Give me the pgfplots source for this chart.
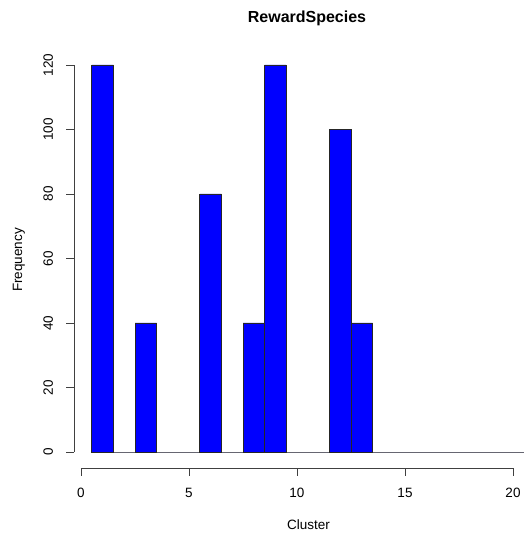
\documentclass[border=0pt]{standalone}
\usepackage{fontspec}
\setmainfont{Liberation Sans}
\usepackage{pgfplots}
\pgfplotsset{compat=1.18}
\begin{document}
\begin{tikzpicture}
\begin{axis}[
  anchor=south west, at={(0pt,0pt)},
  x=21.6pt, y=3.225pt,
  xmin=0, xmax=20, ymin=0, ymax=120,
  clip=false,
  axis x line*=bottom, axis y line*=left,
  axis x line shift=16pt, axis y line shift=7pt,
  xtick={0,5,10,15,20}, ytick={0,20,40,60,80,100,120},
  tick align=outside, major tick length=7.5pt,
  tick style={black!75, line width=0.8pt},
  axis line style={black!75, line width=0.8pt},
  /pgf/number format/assume math mode=true,
  every tick label/.append style={font=\fontsize{13.5}{16}\selectfont},
  yticklabel style={rotate=90, anchor=south},
  xticklabel shift=9pt, yticklabel shift=10pt,
]
\addplot[ybar interval, fill=blue, draw=black!85, line width=0.9pt] coordinates {
(0.5,120) (1.5,0) (2.5,40) (3.5,0) (4.5,0) (5.5,80) (6.5,0) (7.5,40) (8.5,120)
(9.5,0) (10.5,0) (11.5,100) (12.5,40) (13.5,0) (14.5,0) (15.5,0) (16.5,0)
(17.5,0) (18.5,0) (19.5,0) (20.5,0)};
\end{axis}
\node[font=\bfseries\fontsize{16}{19}\selectfont] at (226pt,434pt) {RewardSpecies};
\node[font=\fontsize{13.5}{16}\selectfont, rotate=90] at (-62pt,192pt) {Frequency};
\node[font=\fontsize{13.5}{16}\selectfont] at (227.5pt,-73pt) {Cluster};
\pgfresetboundingbox
\useasboundingbox (-81pt,-81pt) rectangle (443pt,452pt);
\end{tikzpicture}
\end{document}
